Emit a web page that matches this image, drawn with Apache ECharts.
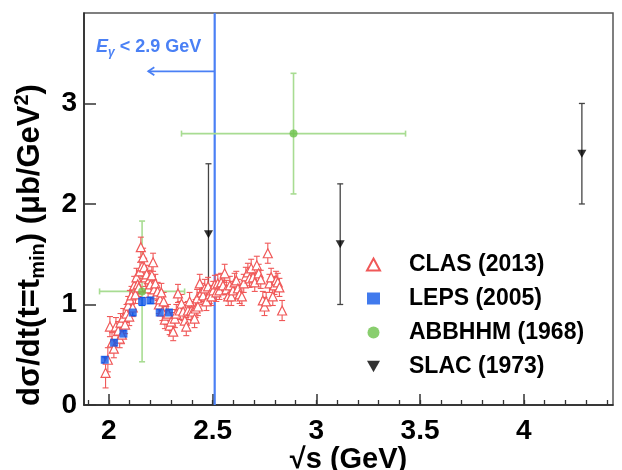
<!DOCTYPE html>
<html><head><meta charset="utf-8">
<script src="https://cdn.jsdelivr.net/npm/echarts@6/dist/echarts.min.js"></script>
<style>html,body{margin:0;padding:0;background:#fff}#c{width:622px;height:470px}</style>
</head><body><div id="c"></div>
<script>
// ---- data ----
const clasS = [1.984,1.995,2.005,2.015,2.024,2.034,2.045,2.052,2.056,2.063,2.069,2.078,2.085,2.093,2.098,2.101,2.109,2.115,2.122,2.128,2.133,2.139,2.144,2.150,2.154,2.160,2.165,2.170,2.176,2.182,2.189,2.195,2.200,2.207,2.213,2.218,2.224,2.229,2.235,2.241,2.247,2.253,2.258,2.264,2.270,2.277,2.285,2.293,2.300,2.310,2.318,2.325,2.333,2.341,2.350,2.358,2.366,2.373,2.381,2.389,2.397,2.405,2.413,2.418,2.425,2.429,2.438,2.446,2.454,2.462,2.470,2.478,2.486,2.494,2.503,2.511,2.518,2.525,2.533,2.541,2.550,2.558,2.566,2.575,2.583,2.590,2.598,2.606,2.614,2.622,2.630,2.641,2.650,2.660,2.670,2.678,2.686,2.695,2.703,2.713,2.722,2.732,2.742,2.750,2.758,2.766,2.774,2.782,2.790,2.798,2.806,2.814,2.822,2.835];
const clasY = [0.32,0.45,0.78,0.62,0.56,0.78,0.74,0.66,0.82,0.70,0.87,0.80,0.91,0.99,0.88,1.05,1.09,0.97,1.19,1.10,1.27,1.20,1.17,1.33,1.57,1.38,1.47,1.37,1.27,1.30,1.16,1.25,1.20,1.29,1.42,1.15,1.21,1.10,1.13,1.00,1.05,1.12,0.93,1.03,0.85,0.89,0.91,0.79,0.83,0.73,0.86,0.91,1.11,0.94,1.01,0.93,0.84,0.78,0.94,1.03,0.94,0.93,0.86,0.96,1.06,0.98,1.21,1.12,1.09,1.16,1.03,1.18,1.10,1.08,1.14,1.20,1.12,1.21,1.14,1.22,1.19,1.31,1.15,1.08,1.19,1.08,1.14,1.22,1.24,1.16,1.10,1.08,1.21,1.28,1.32,1.26,1.36,1.27,1.22,1.39,1.31,1.25,1.04,0.98,1.03,1.51,1.21,1.27,1.08,1.19,1.24,1.22,1.17,0.94];
const clasErr = [0.15,0.12,0.1,0.1,0.09,0.09,0.09,0.09,0.09,0.09,0.09,0.09,0.09,0.09,0.09,0.09,0.09,0.09,0.09,0.09,0.09,0.09,0.09,0.09,0.1,0.09,0.09,0.09,0.09,0.09,0.09,0.09,0.09,0.09,0.09,0.09,0.09,0.09,0.09,0.09,0.09,0.09,0.09,0.09,0.09,0.09,0.09,0.09,0.09,0.09,0.09,0.09,0.09,0.09,0.09,0.09,0.09,0.09,0.09,0.09,0.09,0.09,0.09,0.09,0.09,0.09,0.09,0.09,0.09,0.09,0.09,0.09,0.09,0.09,0.09,0.09,0.09,0.09,0.09,0.09,0.09,0.09,0.09,0.09,0.09,0.09,0.09,0.09,0.09,0.09,0.09,0.09,0.09,0.09,0.09,0.09,0.09,0.09,0.09,0.09,0.09,0.09,0.09,0.09,0.09,0.1,0.09,0.09,0.09,0.09,0.09,0.09,0.09,0.1];

const lepsS = [1.98,2.025,2.07,2.115,2.16,2.20,2.245,2.29];
const lepsY = [0.45,0.62,0.71,0.92,1.03,1.04,0.92,0.92];
const lepsErr = [0.03,0.03,0.03,0.03,0.04,0.03,0.03,0.03];

const abbS = [2.16,2.89];
const abbY = [1.13,2.70];
const abbXErr = [0.205,0.54];
const abbYErr = [0.70,0.60];

const slacS = [2.48,3.115,4.28];
const slacY = [1.70,1.60,2.50];
const slacErr = [0.70,0.60,0.50];

const xMajorTicks = [2,2.5,3,3.5,4];
const xMinorTicks = [1.9,2.0,2.1,2.2,2.3,2.4,2.5,2.6,2.7,2.8,2.9,3.0,3.1,3.2,3.3,3.4,3.5,3.6,3.7,3.8,3.9,4.0,4.1,4.2,4.3,4.4];
const yMajorTicks = [0,1,2,3];

const cutLine = 2.51;       // E_gamma < 2.9 GeV boundary
const arrowFrom = 2.51, arrowTo = 2.19, arrowY = 3.32;

const legendNames = ['CLAS (2013)','LEPS (2005)','ABBHHM (1968)','SLAC (1973)'];

// ---- colours ----
const RED = '#f05858', BLUE = '#1259e8', GREEN = '#6cc24a', GREEN_BAR = '#a8dc92', BLK = '#000', LINEBLUE = '#4a80f5';
const FONT = '"Liberation Sans", Arial, Helvetica, sans-serif';

function vErrRender(color, gap, cap, width) {
  return function (params, api) {
    const x = api.value(0), y = api.value(1), e = api.value(2);
    const pc = api.coord([x, y]);
    const pt = api.coord([x, y + e]);
    const pb = api.coord([x, y - e]);
    const st = { stroke: color, lineWidth: width };
    const ch = [];
    if (pc[1] - gap > pt[1]) ch.push({ type: 'line', shape: { x1: pc[0], y1: pt[1], x2: pc[0], y2: pc[1] - gap }, style: st });
    if (pc[1] + gap < pb[1]) ch.push({ type: 'line', shape: { x1: pc[0], y1: pc[1] + gap, x2: pc[0], y2: pb[1] }, style: st });
    ch.push({ type: 'line', shape: { x1: pc[0] - cap, y1: pt[1], x2: pc[0] + cap, y2: pt[1] }, style: st });
    ch.push({ type: 'line', shape: { x1: pc[0] - cap, y1: pb[1], x2: pc[0] + cap, y2: pb[1] }, style: st });
    return { type: 'group', children: ch };
  };
}

const clasData = clasS.map((s, i) => [s, clasY[i], clasErr[i]]);
const lepsData = lepsS.map((s, i) => [s, lepsY[i], lepsErr[i]]);
const slacData = slacS.map((s, i) => [s, slacY[i], slacErr[i]]);
const abbData = abbS.map((s, i) => [s, abbY[i], abbYErr[i], abbXErr[i]]);

const chart = echarts.init(document.getElementById('c'), null, { renderer: 'canvas' });
const option = {
  animation: false,
  backgroundColor: '#fff',
  textStyle: { fontFamily: FONT },
  grid: { left: 84, right: 9, top: 13, bottom: 65, outerBoundsMode: 'none', containLabel: false, show: true, borderColor: '#555', borderWidth: 1.5, backgroundColor: 'transparent' },
  legend: {
    data: legendNames,
    orient: 'vertical',
    left: 361, top: 248,
    itemWidth: 13, itemHeight: 12, itemGap: 11,
    textStyle: { fontSize: 23, fontWeight: 'bold', color: '#000', fontFamily: FONT, padding: [0, 0, 0, 24] },
    selectedMode: false
  },
  xAxis: [{
    type: 'value', min: 1.88, max: 4.43,
    axisLine: { show: true, lineStyle: { color: '#222', width: 1.5 } },
    axisTick: { show: true, inside: true, length: 11, customValues: xMajorTicks, lineStyle: { color: '#333', width: 1.5 } },
    axisLabel: { customValues: xMajorTicks, fontSize: 28, fontWeight: 'bold', color: '#000', margin: 12, fontFamily: FONT, formatter: v => String(v) },
    splitLine: { show: false },
    name: '√s (GeV)', nameLocation: 'middle', nameGap: 40, nameMoveOverlap: false,
    nameTextStyle: { fontSize: 29, fontWeight: 'bold', color: '#000', fontFamily: FONT }
  }, {
    type: 'value', min: 1.88, max: 4.43, position: 'bottom',
    axisLine: { show: false },
    axisTick: { show: true, inside: true, length: 5, customValues: xMinorTicks, lineStyle: { color: '#333', width: 1.3 } },
    axisLabel: { show: false }, splitLine: { show: false }
  }],
  yAxis: {
    type: 'value', min: 0, max: 3.9,
    axisLine: { show: true, lineStyle: { color: '#222', width: 1.5 } },
    axisTick: { show: true, inside: true, length: 12, customValues: yMajorTicks, lineStyle: { color: '#333', width: 1.5 } },
    axisLabel: { customValues: yMajorTicks, fontSize: 28, fontWeight: 'bold', color: '#000', margin: 7, fontFamily: FONT },
    splitLine: { show: false },
    name: 'dσ/dt(t=t{sub|min}) (μb/GeV{sup|2})',
    nameLocation: 'middle', nameGap: 36, nameRotate: 90, nameMoveOverlap: false,
    nameTextStyle: {
      fontSize: 31, fontWeight: 'bold', color: '#000', fontFamily: FONT, lineHeight: 36,
      padding: [0, 72, 0, 0],
      rich: {
        sub: { fontSize: 20, fontWeight: 'bold', color: '#000', fontFamily: FONT, verticalAlign: 'bottom', lineHeight: 14 },
        sup: { fontSize: 20, fontWeight: 'bold', color: '#000', fontFamily: FONT, verticalAlign: 'top', lineHeight: 22 }
      }
    }
  },
  graphic: [{
    type: 'text', left: 96, top: 38, z: 100,
    style: {
      text: '{e|E}{g|γ}{t| < 2.9 GeV}',
      rich: {
        e: { fontSize: 18, fontWeight: 'bold', fontStyle: 'italic', fill: LINEBLUE, fontFamily: FONT, lineHeight: 24 },
        g: { fontSize: 12, fontWeight: 'bold', fontStyle: 'italic', fill: LINEBLUE, fontFamily: FONT, verticalAlign: 'bottom', lineHeight: 10 },
        t: { fontSize: 18, fontWeight: 'bold', fill: LINEBLUE, fontFamily: FONT, lineHeight: 24 }
      }
    }
  }],
  series: [
    {
      name: 'vline', type: 'custom', silent: true, z: 1,
      data: [[cutLine]],
      renderItem: function (params, api) {
        const p0 = api.coord([api.value(0), 0]);
        const p1 = api.coord([api.value(0), 3.9]);
        return { type: 'line', shape: { x1: p0[0], y1: p0[1], x2: p1[0], y2: p1[1] }, style: { stroke: LINEBLUE, lineWidth: 2.2 } };
      }
    },
    {
      name: 'arrow', type: 'custom', silent: true, z: 1,
      data: [[arrowFrom, arrowTo, arrowY]],
      renderItem: function (params, api) {
        const p0 = api.coord([api.value(0), api.value(2)]);
        const p1 = api.coord([api.value(1), api.value(2)]);
        const st = { stroke: LINEBLUE, lineWidth: 1.8, fill: null };
        return { type: 'group', children: [
          { type: 'line', shape: { x1: p0[0], y1: p0[1], x2: p1[0], y2: p1[1] }, style: st },
          { type: 'polyline', shape: { points: [[p1[0] + 6, p1[1] - 4], [p1[0], p1[1]], [p1[0] + 6, p1[1] + 4]] }, style: st }
        ] };
      }
    },
    {
      name: 'abbErr', type: 'custom', silent: true, z: 2,
      data: abbData,
      renderItem: function (params, api) {
        const x = api.value(0), y = api.value(1), ey = api.value(2), ex = api.value(3);
        const pt = api.coord([x, y + ey]), pb = api.coord([x, y - ey]);
        const pl = api.coord([x - ex, y]), pr = api.coord([x + ex, y]);
        const st = { stroke: GREEN_BAR, lineWidth: 1.6 };
        return { type: 'group', children: [
          { type: 'line', shape: { x1: pt[0], y1: pt[1], x2: pb[0], y2: pb[1] }, style: st },
          { type: 'line', shape: { x1: pl[0], y1: pl[1], x2: pr[0], y2: pr[1] }, style: st },
          { type: 'line', shape: { x1: pt[0] - 3, y1: pt[1], x2: pt[0] + 3, y2: pt[1] }, style: st },
          { type: 'line', shape: { x1: pb[0] - 3, y1: pb[1], x2: pb[0] + 3, y2: pb[1] }, style: st },
          { type: 'line', shape: { x1: pl[0], y1: pl[1] - 3, x2: pl[0], y2: pl[1] + 3 }, style: st },
          { type: 'line', shape: { x1: pr[0], y1: pr[1] - 3, x2: pr[0], y2: pr[1] + 3 }, style: st }
        ] };
      }
    },
    { name: 'slacErr', type: 'custom', silent: true, z: 2, data: slacData, renderItem: vErrRender('#444', 0, 3, 1.3) },
    { name: 'clasErr', type: 'custom', silent: true, z: 3, data: clasData, renderItem: vErrRender(RED, 4, 3, 1.1) },
    { name: 'lepsErr', type: 'custom', silent: true, z: 3, data: lepsData, renderItem: vErrRender(BLUE, 0, 3, 1.2) },
    {
      name: 'CLAS (2013)', type: 'scatter', z: 5, symbol: 'triangle', symbolSize: 9,
      itemStyle: { color: '#fff', borderColor: RED, borderWidth: 1.2, opacity: 1 },
      data: clasData.map(d => [d[0], d[1]])
    },
    {
      name: 'LEPS (2005)', type: 'scatter', z: 6, symbol: 'rect', symbolSize: 8,
      itemStyle: { color: BLUE },
      data: lepsData.map(d => [d[0], d[1]])
    },
    {
      name: 'ABBHHM (1968)', type: 'scatter', z: 6, symbol: 'circle', symbolSize: 8,
      itemStyle: { color: GREEN },
      data: abbData.map(d => [d[0], d[1]])
    },
    {
      name: 'SLAC (1973)', type: 'scatter', z: 6, symbol: 'path://M0,0L10,0L5,9Z', symbolSize: [9, 8],
      itemStyle: { color: BLK },
      data: slacData.map(d => [d[0], d[1]])
    }
  ]
};
chart.setOption(option);
</script>
</body></html>
